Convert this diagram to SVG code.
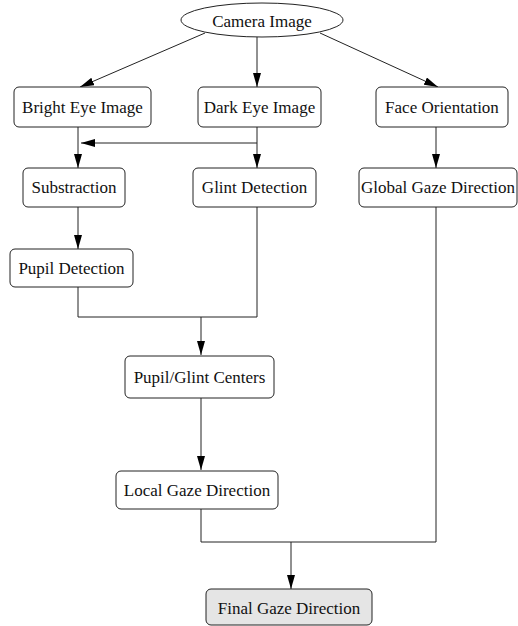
<svg xmlns="http://www.w3.org/2000/svg" width="518" height="626" viewBox="0 0 518 626">
<style>
.box{fill:#fff;stroke:#222;stroke-width:1}
.final{fill:#e5e5e5;stroke:#222;stroke-width:1}
.t{font-family:"Liberation Serif","Times New Roman",serif;font-size:17px;fill:#111;text-anchor:middle}
.c{fill:none;stroke:#222;stroke-width:1}
</style>
<defs>
<marker id="ah" markerUnits="userSpaceOnUse" markerWidth="14" markerHeight="8" refX="14" refY="4" orient="auto">
<path d="M0,0 L14,4 L0,8 z" fill="#000"/>
</marker>
</defs>
<g id="connectors">
<line class="c" x1="205" y1="33" x2="80" y2="87" marker-end="url(#ah)"/>
<line class="c" x1="257" y1="37" x2="257" y2="87" marker-end="url(#ah)"/>
<line class="c" x1="320" y1="33" x2="438" y2="87" marker-end="url(#ah)"/>
<line class="c" x1="78" y1="127" x2="78" y2="168" marker-end="url(#ah)"/>
<line class="c" x1="257" y1="127" x2="257" y2="168" marker-end="url(#ah)"/>
<line class="c" x1="257" y1="143" x2="81" y2="143" marker-end="url(#ah)"/>
<line class="c" x1="436" y1="127" x2="436" y2="168" marker-end="url(#ah)"/>
<line class="c" x1="78" y1="207" x2="78" y2="249" marker-end="url(#ah)"/>
<polyline class="c" points="78,287 78,317 257,317 257,207"/>
<line class="c" x1="201" y1="317" x2="201" y2="355" marker-end="url(#ah)"/>
<line class="c" x1="201" y1="398" x2="201" y2="470" marker-end="url(#ah)"/>
<polyline class="c" points="201,509 201,542 436,542 436,207"/>
<line class="c" x1="291" y1="542" x2="291" y2="589" marker-end="url(#ah)"/>
</g>
<g id="camera">
<ellipse class="box" cx="262" cy="20" rx="81" ry="17"/>
<text class="t" x="262" y="27">Camera Image</text>
</g>
<g id="bright">
<rect class="box" x="14" y="87" width="137" height="40" rx="5"/>
<text class="t" x="82.5" y="113">Bright Eye Image</text>
</g>
<g id="dark">
<rect class="box" x="198" y="87" width="123" height="40" rx="5"/>
<text class="t" x="259.5" y="113">Dark Eye Image</text>
</g>
<g id="face">
<rect class="box" x="376" y="87" width="132" height="40" rx="5"/>
<text class="t" x="442" y="113">Face Orientation</text>
</g>
<g id="subtraction">
<rect class="box" x="23" y="168" width="102" height="39" rx="5"/>
<text class="t" x="74" y="193">Substraction</text>
</g>
<g id="glint">
<rect class="box" x="193" y="168" width="123" height="39" rx="5"/>
<text class="t" x="254.5" y="193">Glint Detection</text>
</g>
<g id="global">
<rect class="box" x="359" y="168" width="158" height="39" rx="5"/>
<text class="t" x="438" y="193">Global Gaze Direction</text>
</g>
<g id="pupil">
<rect class="box" x="10" y="249" width="123" height="38" rx="5"/>
<text class="t" x="71.5" y="274">Pupil Detection</text>
</g>
<g id="centers">
<rect class="box" x="125" y="356" width="149" height="42" rx="5"/>
<text class="t" x="199.5" y="383">Pupil/Glint Centers</text>
</g>
<g id="local">
<rect class="box" x="116" y="471" width="162" height="38" rx="5"/>
<text class="t" x="197" y="496">Local Gaze Direction</text>
</g>
<g id="final">
<rect class="final" x="206" y="589" width="166" height="36" rx="5"/>
<text class="t" x="289" y="614">Final Gaze Direction</text>
</g>
</svg>
